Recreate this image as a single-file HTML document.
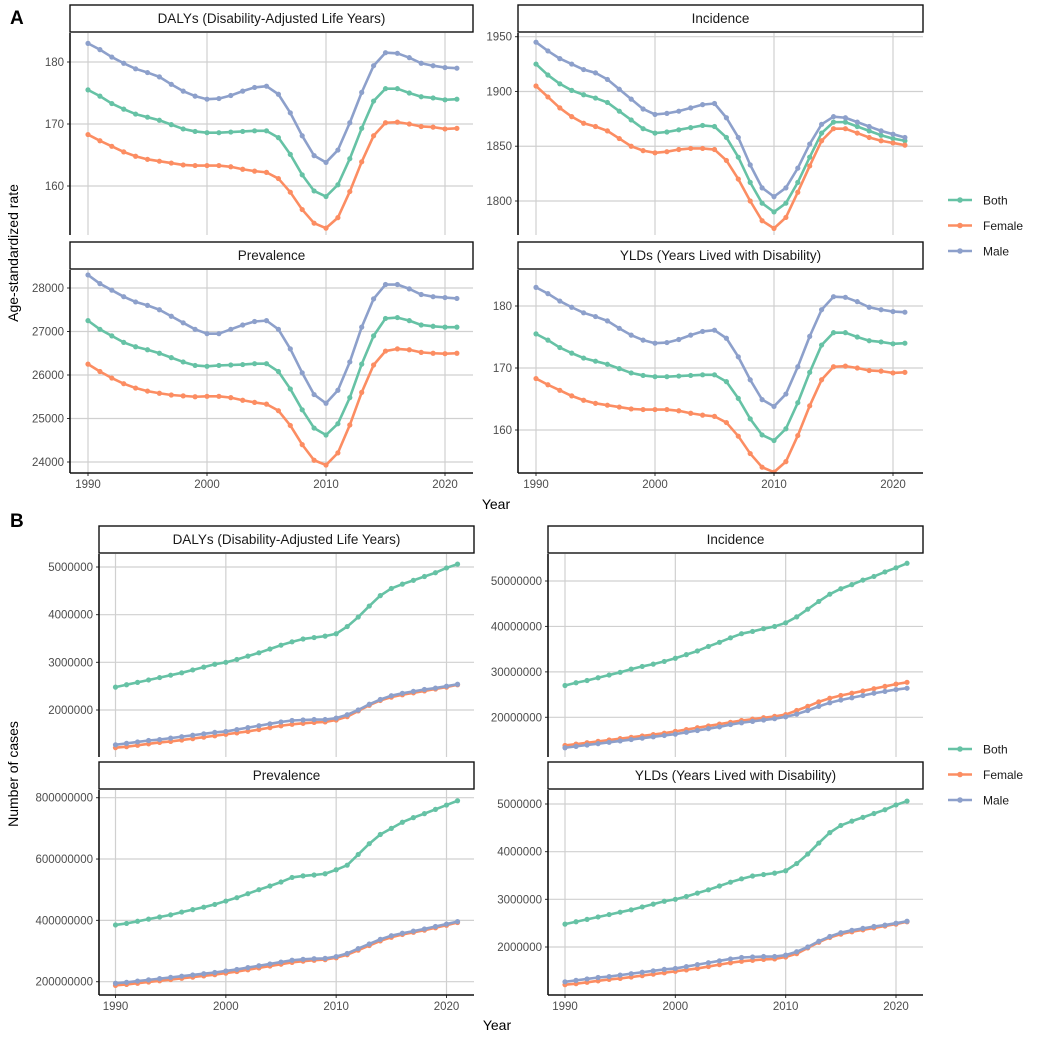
<!DOCTYPE html>
<html><head><meta charset="utf-8"><style>
body{margin:0;background:#fff;font-family:"Liberation Sans",sans-serif}
</style></head><body>
<svg id="c" width="1040" height="1040" xmlns="http://www.w3.org/2000/svg" font-family="Liberation Sans, sans-serif"></svg>
<script>
const years=[];for(let y=1990;y<=2021;y++)years.push(y);
const seriesNames=["Both","Female","Male"];
const colors={Both:"#66c2a5",Female:"#fc8d62",Male:"#8da0cb"};
const dalyBoth=[175.5,174.5,173.3,172.4,171.6,171.1,170.6,169.9,169.2,168.8,168.6,168.6,168.7,168.8,168.9,168.9,167.8,165.1,161.8,159.2,158.3,160.2,164.4,169.3,173.7,175.7,175.7,175.0,174.4,174.2,173.9,174.0];
const dalyFemale=[168.3,167.3,166.4,165.5,164.8,164.3,164.0,163.7,163.4,163.3,163.3,163.3,163.1,162.7,162.4,162.2,161.2,159.0,156.2,154.0,153.2,154.9,159.1,163.9,168.1,170.2,170.3,170.0,169.6,169.5,169.2,169.3];
const dalyMale=[183,182,180.8,179.8,178.9,178.3,177.6,176.4,175.3,174.5,174,174.1,174.6,175.3,175.9,176.1,174.8,171.8,168.1,164.9,163.8,165.8,170.2,175.1,179.4,181.5,181.4,180.7,179.8,179.4,179.1,179.0];
const incBoth=[1925,1915,1907,1901,1897,1894,1890,1882,1874,1866,1862,1863,1865,1867,1869,1868,1858,1840,1817,1798,1790,1798,1817,1840,1862,1872,1872,1868,1864,1860,1857,1855];
const incFemale=[1905,1895,1885,1877,1871,1868,1864,1857,1850,1846,1844,1845,1847,1848,1848,1847,1837,1820,1800,1782,1775,1785,1808,1832,1855,1866,1866,1862,1858,1855,1853,1851];
const incMale=[1945,1937,1930,1925,1920,1917,1911,1902,1893,1884,1879,1880,1882,1885,1888,1889,1876,1858,1833,1812,1804,1812,1830,1852,1870,1877,1876,1872,1868,1864,1861,1858];
const prevBoth=[27250,27050,26900,26750,26650,26580,26500,26400,26300,26220,26200,26220,26230,26240,26260,26260,26080,25680,25200,24780,24620,24880,25480,26250,26900,27300,27320,27250,27150,27120,27100,27100];
const prevFemale=[26250,26080,25930,25800,25700,25630,25580,25540,25520,25500,25510,25510,25480,25420,25370,25330,25180,24840,24400,24040,23930,24210,24850,25600,26230,26550,26600,26580,26520,26500,26490,26500];
const prevMale=[28300,28100,27950,27800,27680,27600,27500,27350,27200,27050,26950,26950,27050,27150,27230,27250,27050,26600,26050,25550,25350,25650,26300,27100,27750,28080,28080,27980,27850,27800,27780,27760];
const nDalyBoth=[2.48,2.53,2.58,2.63,2.68,2.73,2.78,2.84,2.90,2.96,3.00,3.06,3.13,3.20,3.28,3.36,3.43,3.49,3.52,3.55,3.60,3.75,3.95,4.18,4.40,4.55,4.64,4.72,4.80,4.88,4.98,5.06];
const nDalyFemale=[1.21,1.23,1.26,1.29,1.32,1.34,1.37,1.40,1.43,1.46,1.49,1.52,1.55,1.59,1.63,1.67,1.70,1.72,1.74,1.75,1.79,1.86,1.98,2.10,2.20,2.27,2.32,2.36,2.40,2.44,2.48,2.53];
const nDalyMale=[1.27,1.30,1.33,1.36,1.38,1.41,1.44,1.47,1.50,1.53,1.55,1.59,1.63,1.67,1.71,1.75,1.78,1.79,1.80,1.80,1.83,1.90,2.00,2.12,2.22,2.30,2.35,2.39,2.43,2.46,2.50,2.54];
const nIncBoth=[27.0,27.6,28.1,28.7,29.3,29.9,30.6,31.2,31.7,32.3,33.0,33.8,34.6,35.6,36.5,37.5,38.4,38.9,39.5,40.0,40.8,42.1,43.8,45.5,47.1,48.3,49.2,50.2,51.0,52.0,52.9,53.9];
const nIncFemale=[13.8,14.1,14.4,14.7,15.0,15.3,15.6,15.9,16.2,16.5,16.9,17.3,17.7,18.1,18.5,18.9,19.3,19.6,19.9,20.2,20.6,21.5,22.4,23.4,24.2,24.8,25.3,25.8,26.3,26.8,27.3,27.7];
const nIncMale=[13.3,13.6,13.9,14.2,14.5,14.8,15.1,15.4,15.7,16.0,16.3,16.7,17.1,17.5,17.9,18.4,18.8,19.1,19.4,19.7,20.1,20.7,21.5,22.4,23.2,23.8,24.3,24.8,25.3,25.7,26.1,26.4];
const nPrevBoth=[385,390,397,404,411,418,427,435,443,452,463,474,487,500,512,525,540,545,548,552,565,580,615,650,680,700,720,735,748,762,776,790];
const nPrevFemale=[188,191,195,199,203,207,211,215,219,223,228,233,239,245,251,257,263,267,270,272,278,288,303,318,333,345,354,361,368,376,384,393];
const nPrevMale=[195,198,202,206,210,214,218,222,226,230,235,240,246,252,258,264,270,273,275,276,282,292,308,323,338,350,358,365,372,380,388,396];
const xTicks=[1990,2000,2010,2020];
const tDaly=[160,170,180];
const tInc=[1800,1850,1900,1950];
const tPrev=[24000,25000,26000,27000,28000];
const tNDaly=[2,3,4,5];
const tNInc=[20,30,40,50];
const tNPrev=[200,400,600,800];

const svg=document.getElementById('c');const NS="http://www.w3.org/2000/svg";
function el(t,a,p){const e=document.createElementNS(NS,t);for(const k in a)e.setAttribute(k,a[k]);(p||svg).appendChild(e);return e;}
function txt(s,a,p){const e=el('text',a,p);e.textContent=s;return e;}
const defs=el('defs',{});
let clipN=0;
function facet(o){
  const g=el('g',{});
  
  
  const cid='clip'+(clipN++);
  const cp=el('clipPath',{id:cid},defs);
  el('rect',{x:o.left,y:o.top,width:o.right-o.left,height:o.bottom-o.top},cp);
  const xs=y=>o.x1990+(y-1990)*(o.x2020-o.x1990)/30;
  const ys=v=>o.yA+(v-o.vA)*(o.yB-o.yA)/(o.vB-o.vA);
  xTicks.forEach(t=>{el('line',{x1:xs(t),x2:xs(t),y1:o.top,y2:o.bottom,stroke:"#d0d0d0","stroke-width":1.2},g);});
  o.ticks.forEach(t=>{el('line',{x1:o.left,x2:o.right,y1:ys(t),y2:ys(t),stroke:"#d0d0d0","stroke-width":1.2},g);
    const l=txt(o.fmt(t),{x:o.left-6,y:ys(t)+4,"text-anchor":"end","font-size":11.5,fill:"#4d4d4d"},g);
    
    
    el('line',{x1:o.left-3,x2:o.left,y1:ys(t),y2:ys(t),stroke:"#333"},g);});
  if(o.xlabels){xTicks.forEach(t=>{el('line',{x1:xs(t),x2:xs(t),y1:o.bottom,y2:o.bottom+3,stroke:"#333"},g);
    const l=txt(String(t),{x:xs(t),y:o.bottom+15,"text-anchor":"middle","font-size":11.5,fill:"#4d4d4d"},g);
    
    });}
  const sg=el('g',{"clip-path":"url(#"+cid+")"},g);
  seriesNames.forEach((n,i)=>{const d=o.data[i];
    const pts=d.map((v,j)=>xs(years[j])+","+ys(v)).join(" ");
    const pl=el('polyline',{points:pts,fill:"none",stroke:colors[n],"stroke-width":2.6,"stroke-linejoin":"round"},sg);
    
    
    d.forEach((v,j)=>{const c=el('circle',{cx:xs(years[j]),cy:ys(v),r:2.6,fill:colors[n]},sg);
      
      });
  });
  el('line',{x1:o.left,x2:o.left,y1:o.top,y2:o.bottom,stroke:"#111","stroke-width":1.6},g);
  if(o.xlabels)el('line',{x1:o.left,x2:o.right,y1:o.bottom,y2:o.bottom,stroke:"#111","stroke-width":1.6},g);
  const st=el('rect',{x:o.left,y:o.top-28,width:o.right-o.left,height:27,fill:"#fff",stroke:"#111","stroke-width":1.4},g);
  
  
  txt(o.title,{x:(o.left+o.right)/2,y:o.top-10,"text-anchor":"middle","font-size":13.5,fill:"#1a1a1a"},g);
}
const f0=v=>String(v);
const fM=v=>String(Math.round(v*1000000));
facet({name:"a-dalys",title:"DALYs (Disability-Adjusted Life Years)",left:70,right:473,top:33,bottom:235,x1990:88,x2020:445,vA:180,yA:62,vB:160,yB:186,ticks:tDaly,fmt:f0,data:[dalyBoth,dalyFemale,dalyMale]});
facet({name:"a-incidence",title:"Incidence",left:518,right:923,top:33,bottom:235,x1990:536,x2020:893,vA:1950,yA:36.7,vB:1800,yB:201,ticks:tInc,fmt:f0,data:[incBoth,incFemale,incMale]});
facet({name:"a-prevalence",title:"Prevalence",left:70,right:473,top:270,bottom:473,x1990:88,x2020:445,vA:28000,yA:288,vB:24000,yB:462,ticks:tPrev,fmt:f0,xlabels:true,data:[prevBoth,prevFemale,prevMale]});
facet({name:"a-ylds",title:"YLDs (Years Lived with Disability)",left:518,right:923,top:270,bottom:473,x1990:536,x2020:893,vA:180,yA:306,vB:160,yB:430,ticks:tDaly,fmt:f0,xlabels:true,data:[dalyBoth,dalyFemale,dalyMale]});
facet({name:"b-dalys",title:"DALYs (Disability-Adjusted Life Years)",left:99,right:474,top:554,bottom:757,x1990:115.5,x2020:446.5,vA:5,yA:567,vB:2,yB:710,ticks:tNDaly,fmt:fM,data:[nDalyBoth,nDalyFemale,nDalyMale]});
facet({name:"b-incidence",title:"Incidence",left:548,right:923,top:554,bottom:757,x1990:565,x2020:896,vA:50,yA:581,vB:20,yB:717.3,ticks:tNInc,fmt:fM,data:[nIncBoth,nIncFemale,nIncMale]});
facet({name:"b-prevalence",title:"Prevalence",left:99,right:474,top:790,bottom:995,x1990:115.5,x2020:446.5,vA:800,yA:797.7,vB:200,yB:981.7,ticks:tNPrev,fmt:fM,xlabels:true,data:[nPrevBoth,nPrevFemale,nPrevMale]});
facet({name:"b-ylds",title:"YLDs (Years Lived with Disability)",left:548,right:923,top:790,bottom:995,x1990:565,x2020:896,vA:5,yA:804,vB:2,yB:947,ticks:tNDaly,fmt:fM,xlabels:true,data:[nDalyBoth,nDalyFemale,nDalyMale]});
function lab(s,a,name){const t=txt(s,a);}
lab("A",{x:10,y:24,"font-size":19,"font-weight":"bold",fill:"#000"},"panel-a-label");
lab("B",{x:10,y:527,"font-size":19,"font-weight":"bold",fill:"#000"},"panel-b-label");
lab("Year",{x:496,y:509,"text-anchor":"middle","font-size":14,fill:"#000"},"a-x-axis-title");
lab("Year",{x:497,y:1030,"text-anchor":"middle","font-size":14,fill:"#000"},"b-x-axis-title");
lab("Age-standardized rate",{x:0,y:0,transform:"translate(18,253) rotate(-90)","text-anchor":"middle","font-size":14,fill:"#000"},"a-y-axis-title");
lab("Number of cases",{x:0,y:0,transform:"translate(18,774) rotate(-90)","text-anchor":"middle","font-size":14,fill:"#000"},"b-y-axis-title");
function legend(y0,name){const g=el('g',{});
  seriesNames.forEach((n,i)=>{const y=y0+i*25.5;
    el('line',{x1:948,x2:972,y1:y,y2:y,stroke:colors[n],"stroke-width":2.6},g);
    el('circle',{cx:960,cy:y,r:2.8,fill:colors[n]},g);
    const t=txt(n,{x:983,y:y+4.5,"font-size":12,fill:"#1a1a1a"},g);
    
    });}
legend(200,"legend-a");legend(749,"legend-b");
</script>
</body></html>
